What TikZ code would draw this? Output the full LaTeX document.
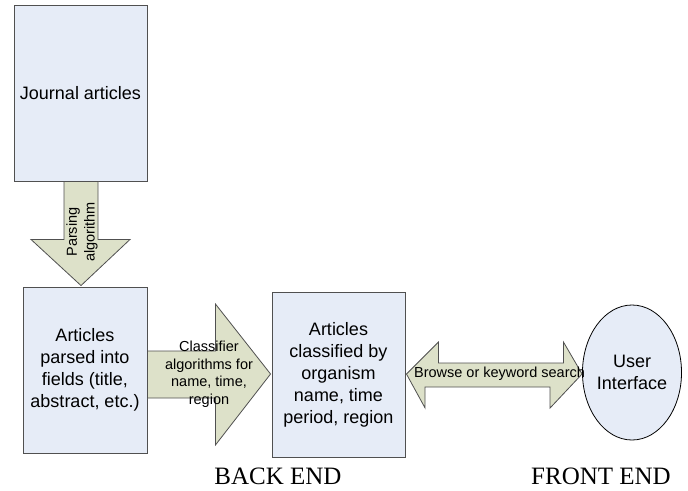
\documentclass[tikz,border=0pt]{standalone}
\usepackage{fontspec}
\setmainfont{Liberation Serif}
\newfontfamily\arialf{Liberation Sans}
\usetikzlibrary{calc,shapes.geometric}
\definecolor{boxfill}{HTML}{E6ECF7}
\definecolor{arrfill}{HTML}{DDE1C9}
\definecolor{edgegray}{HTML}{505050}
\tikzset{
  box/.style={draw=edgegray, line width=0.9pt, fill=boxfill, inner sep=2pt,
    font=\arialf\fontsize{18}{22}\selectfont, align=center, text=black},
  blockarrow/.style={draw=edgegray, line width=0.8pt, fill=arrfill},
  arrlabel/.style={font=\arialf\fontsize{14.5}{17.5}\selectfont, align=center, inner sep=0pt},
  endlabel/.style={font=\fontsize{25}{28}\selectfont, inner sep=0pt}
}
\begin{document}
\begin{tikzpicture}[x=1pt,y=-1pt]
\useasboundingbox (0,0) rectangle (688,490);
\node[box, minimum width=133pt, minimum height=176pt] (j) at (80.5,93) {Journal articles};
\node[box, minimum width=124pt, minimum height=166pt] (p) at (85,370) {Articles\\parsed into\\fields (title,\\abstract, etc.)};
\node[box, minimum width=133pt, minimum height=165pt] (c) at (338.5,374.5) {Articles\\classified by\\organism\\name, time\\period, region};
\node[draw=black, line width=0.8pt, fill=boxfill, ellipse, minimum width=74pt, minimum height=135pt, inner sep=0pt,
  font=\arialf\fontsize{18}{22}\selectfont, align=center] (u) at (632,372.5) {User\\Interface};
% down arrow
\draw[blockarrow] ($(j.south)+(-16.5,0)$) -- ++(0,58) -- ++(-33,0) -- ($(p.north)+(-4,-1)$)
  -- ($(j.south)+(49.5,58)$) -- ++(-32,0) -- ($(j.south)+(17.5,0)$) -- cycle;
\node[arrlabel, rotate=90] (pl) at (82,232) {Parsing\\algorithm};
% right arrow
\draw[blockarrow] ($(p.east)+(0,-19)$) -- ++(68,0) -- ++(0,-47) -- ($(c.west)+(-1,-0.5)$)
  -- ($(p.east)+(68,75)$) -- ++(0,-47) -- ($(p.east)+(0,28)$) -- cycle;
\node[arrlabel] (cl) at (209,374) {Classifier\\algorithms for\\name, time,\\region};
% double arrow
\draw[blockarrow] ($(c.east)+(1,-0.5)$) -- ++(32,-32) -- ++(0,21) -- ++(125,0) -- ++(0,-21)
  -- ($(u.west)+(0,1.5)$) -- ++(-32,34) -- ++(0,-21) -- ++(-125,0) -- ++(0,21) -- cycle;
\node[arrlabel] (bl) at (499.5,374) {Browse or keyword search};
\node[endlabel] (be) at (278,476) {BACK END};
\node[endlabel] (fe) at (601,476) {FRONT END};
\end{tikzpicture}
\end{document}
